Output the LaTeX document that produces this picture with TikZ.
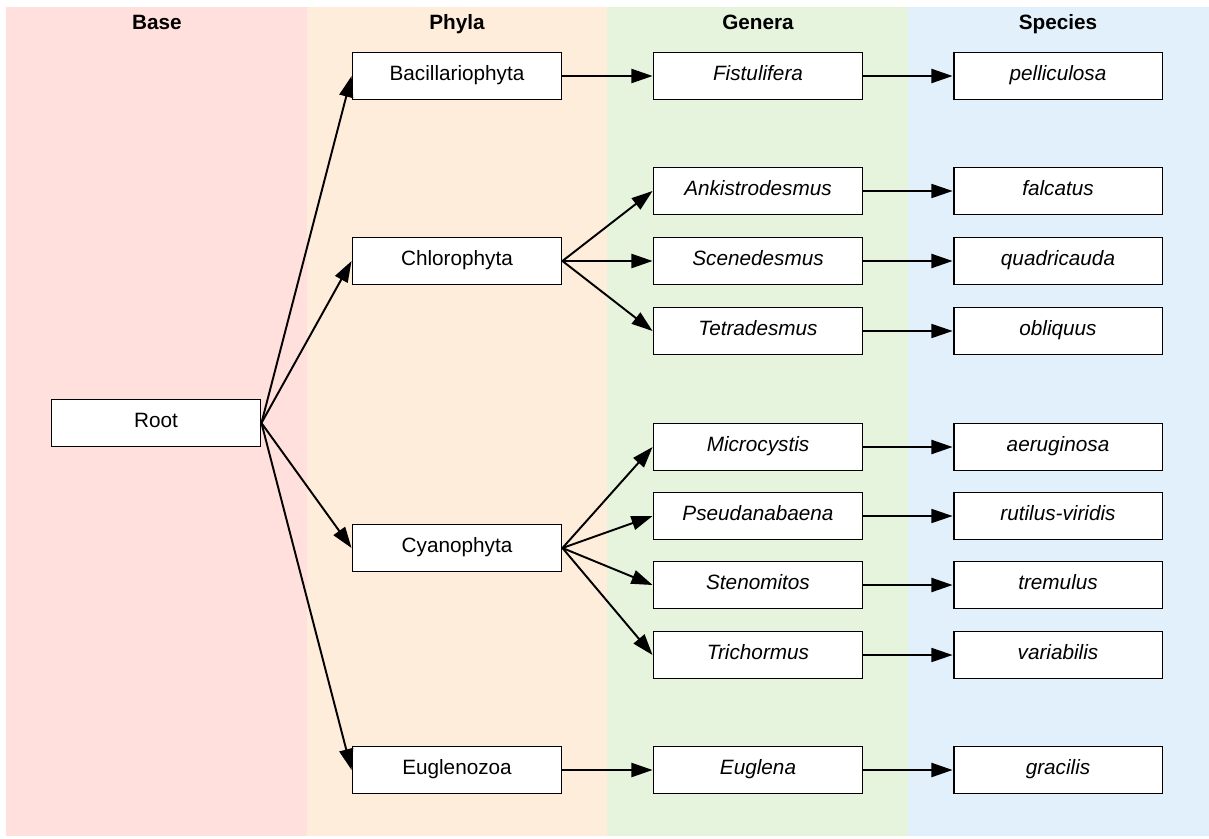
\documentclass[tikz,border=0pt]{standalone}
\usepackage{fontspec}
\setmainfont{Liberation Sans}
\usetikzlibrary{arrows.meta}
\definecolor{lanebase}{RGB}{255,224,221}
\definecolor{lanephyla}{RGB}{255,237,219}
\definecolor{lanegenera}{RGB}{230,243,221}
\definecolor{lanespecies}{RGB}{225,240,251}
\tikzset{
	taxbox/.style={draw=black, fill=white, line width=1.1pt, minimum width=4.18cm, minimum height=0.94cm, inner sep=0pt, text height=9pt, text depth=3.5pt, font=\fontsize{11.8}{14}\selectfont},
	genbox/.style={taxbox, font=\fontsize{11.8}{14}\selectfont\itshape},
	lanehead/.style={text height=9pt, text depth=3pt, font=\fontsize{11.8}{14}\selectfont\bfseries},
	link/.style={line width=1.1pt, -{Triangle[length=12pt,width=8pt]}},
	thinlink/.style={line width=0.85pt, -{Triangle[length=12pt,width=8pt]}}
}

\begin{document}
\begin{tikzpicture}[x=0.02cm, y=-0.02cm]
			%%%%% START %%%%%
			\useasboundingbox (0, 0) rectangle (1209, 838);
			
			\fill[lanebase] (6, 7) rectangle (307, 836);
			\fill[lanephyla] (307, 7) rectangle (607, 836);
			\fill[lanegenera] (607, 7) rectangle (908, 836);
			\fill[lanespecies] (908, 7) rectangle (1209, 836);
			
			\node[lanehead] (hbase) at (157, 24) {Base};
			\node[lanehead] (hphyla) at (457, 24) {Phyla};
			\node[lanehead] (hgenera) at (758, 24) {Genera};
			\node[lanehead] (hspecies) at (1058, 24) {Species};
			
			\node[taxbox] (root) at (156, 423) {Root};
			
			\node[taxbox] (bacil) at (457, 76) {Bacillariophyta};
			\node[taxbox] (chloro) at (457, 261) {Chlorophyta};
			\node[taxbox] (cyano) at (457, 548) {Cyanophyta};
			\node[taxbox] (euglz) at (457, 770) {Euglenozoa};
			
			\node[genbox] (fistul) at (758, 76) {Fistulifera};
			\node[genbox] (ankis) at (758, 191) {Ankistrodesmus};
			\node[genbox] (scene) at (758, 261) {Scenedesmus};
			\node[genbox] (tetra) at (758, 331) {Tetradesmus};
			\node[genbox] (micro) at (758, 447) {Microcystis};
			\node[genbox] (pseud) at (758, 516) {Pseudanabaena};
			\node[genbox] (steno) at (758, 585) {Stenomitos};
			\node[genbox] (trich) at (758, 655) {Trichormus};
			\node[genbox] (eugl) at (758, 770) {Euglena};
			
			\node[genbox] (pellic) at (1058, 76) {pelliculosa};
			\node[genbox] (falc) at (1058, 191) {falcatus};
			\node[genbox] (quad) at (1058, 261) {quadricauda};
			\node[genbox] (obliq) at (1058, 331) {obliquus};
			\node[genbox] (aerug) at (1058, 447) {aeruginosa};
			\node[genbox] (rutil) at (1058, 516) {rutilus-viridis};
			\node[genbox] (trem) at (1058, 585) {tremulus};
			\node[genbox] (varia) at (1058, 655) {variabilis};
			\node[genbox] (grac) at (1058, 770) {gracilis};
			
			% root to phyla
			\foreach \p in {bacil, chloro, cyano, euglz}
				\draw[link] (root.east) -- (\p.west);
			
			% phyla to genera
			\draw[link] (bacil.east) -- (fistul.west);
			\foreach \g in {ankis, scene, tetra}
				\draw[link] (chloro.east) -- (\g.west);
			\foreach \g in {micro, pseud, steno, trich}
				\draw[link] (cyano.east) -- (\g.west);
			\draw[link] (euglz.east) -- (eugl.west);
			
			% genera to species
			\draw[link] (fistul) -- (pellic);
			\draw[thinlink] (ankis) -- (falc);
			\draw[link] (scene) -- (quad);
			\draw[thinlink] (tetra) -- (obliq);
			\draw[link] (micro) -- (aerug);
			\draw[thinlink] (pseud) -- (rutil);
			\draw[link] (steno) -- (trem);
			\draw[thinlink] (trich) -- (varia);
			\draw[link] (eugl) -- (grac);
			%%%%% END %%%%%
		\end{tikzpicture}
\end{document}
